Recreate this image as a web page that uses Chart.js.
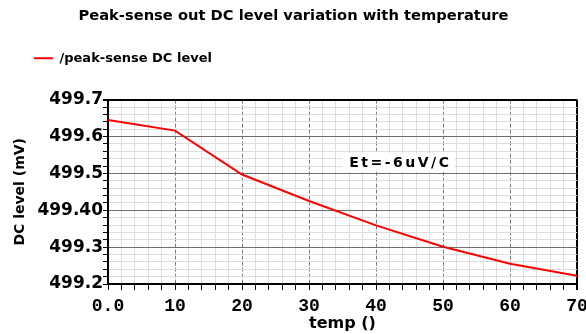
<!DOCTYPE html>
<html>
<head>
<meta charset="utf-8">
<title>Peak-sense DC level vs temperature</title>
<script src="https://cdn.jsdelivr.net/npm/chart.js@4/dist/chart.umd.min.js"></script>
<style>
  body { margin: 0; background: #fff; }
  #wrap { width: 586px; height: 334px; }
</style>
</head>
<body>
<div id="wrap"><canvas id="dcChart"></canvas></div>
<script>
/************** DC level sweep over temperature ******/
var temps = [0, 10, 20, 30, 40, 50, 60, 70];
var dcLevel = [499.645, 499.616, 499.497, 499.425, 499.359, 499.301, 499.255, 499.222];
var xTickLabels = ["0.0", "10", "20", "30", "40", "50", "60", "70"];
var yTickValues = [499.2, 499.3, 499.4, 499.5, 499.6, 499.7];
var yTickLabels = ["499.2", "499.3", "499.40", "499.5", "499.6", "499.7"];
var slopeNote = "Et=-6uV/C";
var notePos = [36, 499.527];

var FONT = "DejaVu Sans";

function xMajor(v) { return v % 10 === 0; }
function yIndex(v) {
  for (var i = 0; i < yTickValues.length; i++) {
    if (Math.abs(yTickValues[i] - v) < 1e-6) return i;
  }
  return -1;
}

// push the plot down below the legend row
var legendGap = {
  id: "legendGap",
  beforeInit: function(chart) {
    var fit = chart.legend.fit;
    chart.legend.fit = function() {
      fit.call(this);
      this.height += 25;
    };
  }
};

// slope note with a white box behind it
var slopeLabel = {
  id: "slopeLabel",
  afterDatasetsDraw: function(chart) {
    var ctx = chart.ctx;
    var x = chart.scales.x.getPixelForValue(notePos[0]);
    var y = chart.scales.y.getPixelForValue(notePos[1]);
    ctx.save();
    ctx.font = "bold 14px '" + FONT + "'";
    ctx.letterSpacing = "2.5px";
    var w = ctx.measureText(slopeNote).width;
    ctx.fillStyle = "#fff";
    ctx.fillRect(x - 7, y - 10, w + 10, 18);
    ctx.fillStyle = "#000";
    ctx.textBaseline = "middle";
    ctx.fillText(slopeNote, x, y);
    ctx.restore();
  }
};

new Chart("dcChart", {
  type: "line",
  data: {
    datasets: [{
      label: "/peak-sense DC level",
      data: temps.map(function(t, i) { return {x: t, y: dcLevel[i]}; }),
      borderColor: "#ff0000",
      backgroundColor: "#ff0000",
      borderWidth: 2,
      pointRadius: 0,
      tension: 0,
      fill: false
    }]
  },
  plugins: [legendGap, slopeLabel],
  options: {
    responsive: true,
    maintainAspectRatio: false,
    animation: false,
    layout: {padding: {left: 10, right: 9, top: 0, bottom: 0}},
    plugins: {
      title: {
        display: true,
        text: "Peak-sense out DC level variation with temperature",
        color: "#000",
        font: {family: FONT, size: 14.7, weight: "bold"},
        padding: {top: 7, bottom: 3}
      },
      legend: {
        align: "start",
        labels: {
          color: "#000",
          font: {family: FONT, size: 13, weight: "bold"},
          usePointStyle: true,
          pointStyle: "line",
          pointStyleWidth: 19,
          padding: 24
        }
      },
      tooltip: {enabled: false}
    },
    scales: {
      x: {
        type: "linear",
        min: 0,
        max: 70,
        ticks: {
          stepSize: 2,
          autoSkip: false,
          maxRotation: 0,
          padding: 6,
          color: "#000",
          font: {family: "Liberation Mono", size: 18, weight: "bold"},
          callback: function(v) { return xMajor(v) ? xTickLabels[v / 10] : ""; }
        },
        grid: {
          color: function(c) {
            if (c.tick.value === 70) return "#000";
            return xMajor(c.tick.value) ? "#7a7a7a" : "#dedede";
          },
          lineWidth: function(c) { return c.tick.value === 70 ? 2 : 1; },
          tickColor: "#000",
          tickLength: 6
        },
        border: {
          color: "#000",
          width: 2,
          dash: function(c) {
            if (!c.tick) return [];
            var v = c.tick.value;
            return (xMajor(v) && v !== 0 && v !== 70) ? [4, 2] : [];
          }
        },
        title: {
          display: true,
          text: "temp ()",
          color: "#000",
          font: {family: FONT, size: 16, weight: "bold"},
          padding: {top: 0, bottom: 1}
        },
        afterFit: function(s) {
          s.height = 50;
          s.paddingLeft = 0;
          s.paddingRight = 0;
        }
      },
      y: {
        min: 499.2,
        max: 499.7,
        ticks: {
          stepSize: 0.02,
          autoSkip: false,
          padding: 0,
          color: "#000",
          font: {family: FONT, size: 17, weight: "bold"},
          callback: function(v) {
            var i = yIndex(v);
            return i < 0 ? "" : yTickLabels[i];
          }
        },
        grid: {
          color: function(c) {
            var i = yIndex(c.tick.value);
            if (i === yTickValues.length - 1) return "#000";
            return i < 0 ? "#dedede" : "#6e6e6e";
          },
          lineWidth: function(c) {
            return yIndex(c.tick.value) === yTickValues.length - 1 ? 2 : 1;
          },
          tickColor: "#000",
          tickLength: 5
        },
        border: {color: "#000", width: 2},
        title: {
          display: true,
          text: "DC level (mV)",
          color: "#000",
          font: {family: FONT, size: 14, weight: "bold"},
          padding: {top: 2, bottom: 0}
        },
        afterFit: function(s) {
          s.width = 98;
          s.paddingTop = 0;
          s.paddingBottom = 0;
        }
      }
    }
  }
});
</script>
</body>
</html>
